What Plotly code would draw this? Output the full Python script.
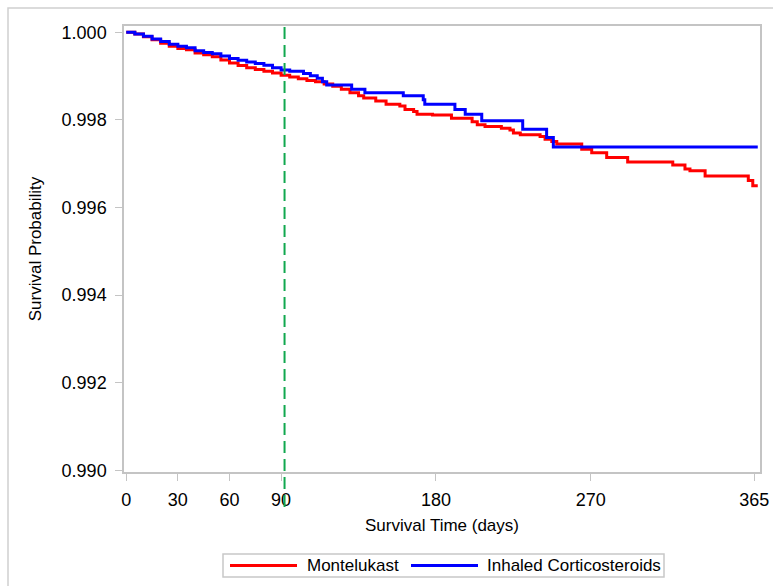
import plotly.graph_objects as go

# ---- data ----
montelukast_days = [0, 5, 10, 15, 20, 25, 30, 35, 40, 45, 50, 55, 60, 65, 70, 75, 80, 85, 90, 95,
                    100, 105, 110, 115, 120, 125, 130, 135, 138, 145, 151, 159, 162, 167, 169, 178,
                    189, 201, 204, 208.5, 218, 223, 225, 229, 240.5, 243.4, 247.3, 250.2, 264.7,
                    270.5, 279.2, 291.4, 317.6, 324.7, 327.6, 336.4, 361.5, 364.1, 367]
montelukast_surv = [1.0, 0.99996, 0.99990, 0.99983, 0.99975, 0.99968, 0.99963, 0.99960, 0.99953,
                    0.99949, 0.99944, 0.99937, 0.99930, 0.99924, 0.99919, 0.99915, 0.99911, 0.99907,
                    0.99902, 0.99898, 0.99894, 0.99890, 0.99887, 0.99882, 0.99877, 0.99870, 0.99862,
                    0.99855, 0.99850, 0.99843, 0.99836, 0.99832, 0.99824, 0.99819, 0.99813, 0.99811,
                    0.99804, 0.99796, 0.99789, 0.99785, 0.99781, 0.99777, 0.99770, 0.99766, 0.99762,
                    0.99756, 0.99751, 0.99745, 0.99733, 0.99725, 0.99714, 0.99704, 0.99697, 0.99688,
                    0.99684, 0.99672, 0.99662, 0.99650, 0.99650]

ics_days = [0, 5, 10, 15, 20, 25, 30, 35, 40, 45, 50, 55, 60, 65, 70, 75, 80, 85, 90, 95,
            103, 107, 111, 114, 116.5, 131, 138.7, 161, 172.6, 173.5, 191, 197, 206.6, 230.4,
            244.3, 248.2, 367]
ics_surv = [1.0, 0.99996, 0.99991, 0.99985, 0.99979, 0.99973, 0.99968, 0.99965, 0.99958, 0.99954,
            0.99951, 0.99946, 0.99940, 0.99936, 0.99932, 0.99929, 0.99925, 0.99919, 0.99914,
            0.99911, 0.99906, 0.99901, 0.99895, 0.99887, 0.99880, 0.99870, 0.99862, 0.99855,
            0.99846, 0.99836, 0.99824, 0.99813, 0.99798, 0.99779, 0.99760, 0.99738, 0.99738]

x_tick_vals = [0, 30, 60, 90, 180, 270, 365]
y_tick_vals = [0.990, 0.992, 0.994, 0.996, 0.998, 1.000]
reference_day = 92

series_names = ["Montelukast", "Inhaled Corticosteroids"]
series_colors = ["#ff0000", "#0000ff"]

FONT = "Liberation Sans, Arial, sans-serif"
AX = "#c4c4c4"

# plot-area geometry in figure pixels
W, H = 773, 586
L, R, T, B = 124, 13, 26, 114
PW, PH = W - L - R, H - T - B
BOTTOM = H - B


def px_x(p):
    return (p - L) / PW


def px_y(p):
    return (BOTTOM - p) / PH


fig = go.Figure()
for name, color, xs, ys in zip(series_names, series_colors,
                               [montelukast_days, ics_days], [montelukast_surv, ics_surv]):
    fig.add_trace(go.Scatter(x=xs, y=ys, mode="lines", name=name, showlegend=False,
                             line=dict(color=color, width=3, shape="hv")))

# reference dashed line (extends below the axis)
fig.add_shape(type="line", xref="x", yref="paper", x0=reference_day, x1=reference_day,
              y0=px_y(507), y1=1.0, line=dict(color="#11a84f", width=2, dash="12px,6px"))

# outer frame (top and left edges visible, the rest runs off the page)
fig.add_shape(type="rect", xref="paper", yref="paper",
              x0=px_x(8), x1=px_x(W + 30), y0=px_y(H + 30), y1=px_y(8),
              line=dict(color="#d0d0d0", width=1.5), layer="below")

# legend box with line samples and labels
fig.add_shape(type="rect", xref="paper", yref="paper",
              x0=px_x(223), x1=px_x(664), y0=px_y(577), y1=px_y(554),
              line=dict(color="#c8c8c8", width=1.5), fillcolor="white")
legend_line_x = [(230, 297), (411, 478)]
legend_text_x = [305, 485]
for name, color, (a, b), tx in zip(series_names, series_colors, legend_line_x, legend_text_x):
    fig.add_shape(type="line", xref="paper", yref="paper",
                  x0=px_x(a), x1=px_x(b), y0=px_y(565.5), y1=px_y(565.5),
                  line=dict(color=color, width=3))
    fig.add_annotation(xref="paper", yref="paper", x=px_x(tx), y=px_y(565.5),
                       xanchor="left", yanchor="middle", showarrow=False, text=name,
                       font=dict(family=FONT, size=17, color="#000000"))

fig.update_layout(
    width=W, height=H,
    margin=dict(l=L, r=R, t=T, b=B, autoexpand=False),
    paper_bgcolor="white", plot_bgcolor="white",
    font=dict(family=FONT, size=17, color="#000000"),
    showlegend=False,
)

fig.update_xaxes(range=[-1.3, 368.3], tickmode="array", tickvals=x_tick_vals,
                 ticks="outside", ticklen=7, tickcolor=AX, tickwidth=1,
                 showline=True, linecolor=AX, linewidth=1.5, mirror=True,
                 showgrid=False, zeroline=False, automargin=False,
                 ticklabelstandoff=4,
                 title=dict(text="Survival Time (days)", standoff=10,
                            font=dict(family=FONT, size=17)),
                 tickfont=dict(family=FONT, size=18))
fig.update_yaxes(range=[0.989964, 1.000144], tickmode="array", tickvals=y_tick_vals,
                 tickformat=".3f",
                 ticks="outside", ticklen=7, tickcolor=AX, tickwidth=1,
                 showline=True, linecolor=AX, linewidth=1.5, mirror=True,
                 showgrid=False, zeroline=False, automargin=False,
                 ticklabelstandoff=5,
                 title=dict(text="Survival Probability", standoff=16,
                            font=dict(family=FONT, size=17)),
                 tickfont=dict(family=FONT, size=18))

fig.write_html("out.html", config={"displayModeBar": False},
               post_script="document.body.style.margin='0';document.body.style.overflow='hidden';")
